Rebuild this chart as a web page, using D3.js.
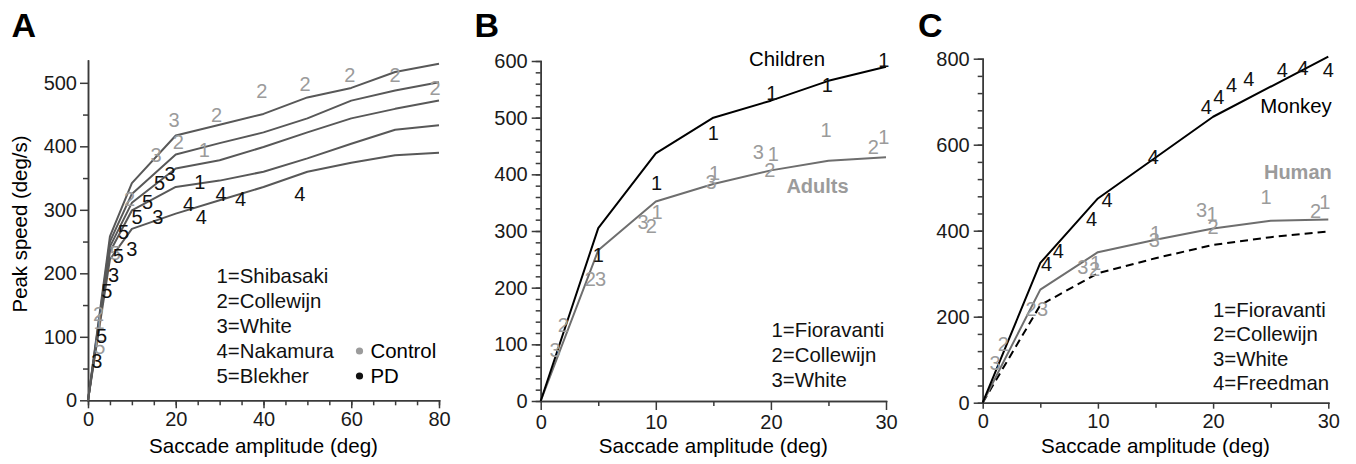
<!DOCTYPE html>
<html>
<head>
<meta charset="utf-8">
<script src="https://cdn.jsdelivr.net/npm/d3@7"></script>
<style>
body { margin: 0; background: #fff; }
svg { font-family: "Liberation Sans", Arial, Helvetica, sans-serif; }
.axis path, .axis line { stroke: #3a3a3a; stroke-width: 1.5; }
.axis text { fill: #1a1a1a; font-size: 20px; font-family: "Liberation Sans", Arial, sans-serif; }
.num { font-size: 20px; }
</style>
</head>
<body>
<svg id="fig" width="1356" height="464"></svg>
<script>
// ---- panel A: five studies, fitted main sequence curves
var ampA = [0, 5, 10, 20, 30, 40, 50, 60, 70, 80];
var curveA1 = [0, 258, 342, 417, 434, 451, 477, 492, 517, 530];
var curveA2 = [0, 250, 325, 387, 405, 422, 444, 472, 488, 501];
var curveA3 = [0, 242, 311, 365, 378, 399, 422, 444, 459, 472];
var curveA4 = [0, 234, 299, 336, 346, 360, 381, 404, 426, 433];
var curveA5 = [0, 222, 270, 294, 315, 336, 360, 374, 386, 390];

// [amplitude, speed, study]
var controlA = [[19.6, 441, "3"], [29.3, 449, "2"], [39.6, 488, "2"], [49.5, 498, "2"], [59.7, 513, "2"],
    [70, 512, "2"], [79.1, 492, "2"], [20.6, 407, "2"], [15.5, 387, "3"], [26.5, 394, "1"],
    [9.5, 318, "2"], [2.4, 137, "2"], [2.5, 123, "1"], [2.7, 84, "5"], [6.2, 232, "5"]];
var pdA = [[18.7, 357, "3"], [16.3, 343, "5"], [25.5, 344, "1"], [30.3, 326, "4"], [34.8, 318, "4"],
    [48.3, 326, "4"], [22.9, 309, "4"], [25.8, 289, "4"], [15.9, 289, "3"], [11.2, 289, "5"],
    [13.6, 312, "5"], [8.1, 266, "5"], [10, 239, "3"], [6.9, 228, "5"], [5.8, 197, "3"],
    [4.3, 173, "5"], [3.1, 102, "5"], [2, 62, "3"]];
var legendA = ["1=Shibasaki", "2=Collewijn", "3=White", "4=Nakamura", "5=Blekher"];
var groupsA = ["Control", "PD"];

// ---- panel B: children vs adults
var ampB = [0, 5, 10, 15, 20, 25, 30];
var childrenB = [0, 305, 437, 500, 530, 565, 590];
var adultsB = [0, 266, 352, 383, 407, 424, 430];
var childLabelsB = [[10.07, 385, "1"], [15, 473, "1"], [20.07, 544, "1"], [24.9, 558, "1"], [29.8, 602, "1"], [5, 258, "1"]];
var adultLabelsB = [[24.8, 479, "1"], [28.9, 449, "2"], [29.8, 466, "1"], [18.9, 440, "3"], [20.2, 436, "1"],
    [19.9, 408, "2"], [15.1, 402, "1"], [14.8, 387, "3"], [8.9, 316, "3"], [9.6, 310, "2"], [10.1, 334, "1"],
    [4.3, 215, "2"], [5.2, 215, "3"], [1.96, 134, "2"], [1.24, 90, "3"]];
var legendB = ["1=Fioravanti", "2=Collewijn", "3=White"];

// ---- panel C: monkey vs human
var ampMonkey = [0, 5, 10, 20, 30];
var monkeyC = [0, 325, 475, 665, 805];
var ampC = [0, 5, 10, 15, 20, 25, 30];
var humanC = [0, 263, 350, 379, 405, 423, 426];
var dashedC = [0, 227, 301, 336, 367, 385, 398];
var monkeyLabelsC = [[9.46, 427, "4"], [10.8, 473, "4"], [14.8, 572, "4"], [19.4, 687, "4"], [20.5, 712, "4"],
    [21.6, 739, "4"], [23.1, 754, "4"], [26, 774, "4"], [27.8, 778, "4"], [30, 774, "4"],
    [5.55, 324, "4"], [6.56, 353, "4"]];
var humanLabelsC = [[24.6, 479, "1"], [28.9, 446, "2"], [29.7, 467, "1"], [19, 448, "3"], [19.9, 440, "1"],
    [20, 409, "2"], [15, 394, "1"], [14.9, 378, "3"], [8.7, 315, "3"], [9.7, 312, "2"], [9.8, 326, "1"],
    [4.2, 218, "2"], [5.2, 218, "3"], [1.8, 138, "2"], [1.07, 92, "3"]];
var legendC = ["1=Fioravanti", "2=Collewijn", "3=White", "4=Freedman"];

var gray = "#9b9b9b", dark = "#111";
var svg = d3.select("#fig");

function drawAxes(x, y, o) {
    var y0 = y.range()[0], x0 = x.range()[0];
    svg.append("g").attr("class", "axis").attr("transform", "translate(0," + y0 + ")")
        .call(d3.axisBottom(x).tickValues(o.xMinor).tickSize(o.minor).tickFormat("").tickSizeOuter(0));
    svg.append("g").attr("class", "axis").attr("transform", "translate(0," + y0 + ")")
        .call(d3.axisBottom(x).tickValues(o.xMajor).tickSize(o.xSize).tickPadding(o.xPad).tickSizeOuter(0));
    svg.append("g").attr("class", "axis").attr("transform", "translate(" + x0 + ",0)")
        .call(d3.axisLeft(y).tickValues(o.yMinor).tickSize(o.minor).tickFormat("").tickSizeOuter(0));
    svg.append("g").attr("class", "axis").attr("transform", "translate(" + x0 + ",0)")
        .call(d3.axisLeft(y).tickValues(o.yMajor).tickSize(o.ySize).tickPadding(o.yPad).tickSizeOuter(0));
    svg.selectAll(".axis .domain").attr("stroke-linecap", "square");

    svg.append("text")
        .attr("x", (x.range()[0] + x.range()[1]) / 2)
        .attr("y", 453)
        .attr("text-anchor", "middle")
        .style("font-size", "20.6px")
        .text("Saccade amplitude (deg)");
}

function drawLine(x, y, xs, ys, color, dash) {
    var line = d3.line().x(d => x(d[0])).y(d => y(d[1]));
    svg.append("path")
        .datum(d3.zip(xs, ys))
        .attr("d", line)
        .attr("fill", "none")
        .attr("stroke", color)
        .attr("stroke-width", 2)
        .attr("stroke-linejoin", "round")
        .attr("stroke-dasharray", dash || null);
}

function drawNums(x, y, data, color) {
    svg.append("g").selectAll("text")
        .data(data)
        .enter()
        .append("text")
        .attr("class", "num")
        .attr("x", d => x(d[0]))
        .attr("y", d => y(d[1]))
        .attr("dy", "0.36em")
        .attr("text-anchor", "middle")
        .attr("fill", color)
        .text(d => d[2]);
}

function drawLegend(lines, lx, ly, step) {
    svg.append("g").selectAll("text")
        .data(lines)
        .enter()
        .append("text")
        .attr("x", lx)
        .attr("y", (d, i) => ly + i * step)
        .style("font-size", "20.4px")
        .attr("fill", dark)
        .text(d => d);
}

function panelLetter(t, px) {
    svg.append("text")
        .attr("x", px).attr("y", 36.5)
        .style("font-size", "34px").style("font-weight", "bold")
        .text(t);
}

// ================= A =================
var xA = d3.scaleLinear().domain([0, 80]).range([88, 439]);
var yA = d3.scaleLinear().domain([0, 535]).range([400.3, 60.6]);
drawAxes(xA, yA, {
    xMajor: d3.range(0, 81, 20), xMinor: d3.range(0, 81, 5),
    yMajor: d3.range(0, 501, 100), yMinor: d3.range(50, 501, 100),
    minor: 5, xSize: 8, xPad: 3.5, ySize: 8, yPad: 3
});
[curveA5, curveA4, curveA3, curveA2, curveA1].forEach(function(c) {
    drawLine(xA, yA, ampA, c, "#585858");
});
drawNums(xA, yA, controlA, gray);
drawNums(xA, yA, pdA, dark);
drawLegend(legendA, 216.5, 283, 25);
svg.append("g").selectAll("circle")
    .data(groupsA)
    .enter()
    .append("circle")
    .attr("cx", 359.5)
    .attr("cy", (d, i) => 351 + i * 25)
    .attr("r", 3.6)
    .attr("fill", (d, i) => i == 0 ? gray : dark);
svg.append("g").selectAll("text")
    .data(groupsA)
    .enter()
    .append("text")
    .attr("x", 370.5)
    .attr("y", (d, i) => 358 + i * 25)
    .style("font-size", "20.4px")
    .text(d => d);
svg.append("text")
    .attr("transform", "translate(27,224) rotate(-90)")
    .attr("text-anchor", "middle")
    .style("font-size", "20.4px")
    .text("Peak speed (deg/s)");
panelLetter("A", 11.5);

// ================= B =================
var xB = d3.scaleLinear().domain([0, 30]).range([540.7, 886]);
var yB = d3.scaleLinear().domain([0, 600]).range([401, 61]);
drawAxes(xB, yB, {
    xMajor: [0, 10, 20, 30], xMinor: [5, 15, 25],
    yMajor: d3.range(0, 601, 100), yMinor: d3.range(0, 601, 20),
    minor: 5, xSize: 9, xPad: 5, ySize: 9, yPad: 4
});
drawLine(xB, yB, ampB, adultsB, "#6e6e6e");
drawLine(xB, yB, ampB, childrenB, "#000");
drawNums(xB, yB, adultLabelsB, gray);
drawNums(xB, yB, childLabelsB, dark);
svg.append("text")
    .attr("x", xB(21.4)).attr("y", yB(591))
    .attr("text-anchor", "middle")
    .style("font-size", "20.4px")
    .text("Children");
svg.append("text")
    .attr("x", xB(24.05)).attr("y", yB(367))
    .attr("text-anchor", "middle")
    .attr("fill", gray)
    .style("font-size", "20px").style("font-weight", "bold")
    .text("Adults");
drawLegend(legendB, 771.5, 337, 24.8);
panelLetter("B", 474.5);

// ================= C =================
var xC = d3.scaleLinear().domain([0, 30]).range([982.7, 1328.3]);
var yC = d3.scaleLinear().domain([0, 800]).range([402.7, 58.7]);
drawAxes(xC, yC, {
    xMajor: [0, 10, 20, 30], xMinor: [5, 15, 25],
    yMajor: d3.range(0, 801, 200), yMinor: d3.range(0, 801, 40),
    minor: 5, xSize: 6, xPad: 5, ySize: 9, yPad: 4
});
drawLine(xC, yC, ampC, dashedC, "#000", "8,5");
drawLine(xC, yC, ampC, humanC, "#6e6e6e");
drawLine(xC, yC, ampMonkey, monkeyC, "#000");
drawNums(xC, yC, humanLabelsC, gray);
drawNums(xC, yC, monkeyLabelsC, dark);
svg.append("text")
    .attr("x", xC(30.3)).attr("y", yC(674))
    .attr("text-anchor", "end")
    .style("font-size", "20.4px")
    .text("Monkey");
svg.append("text")
    .attr("x", xC(30.3)).attr("y", yC(520))
    .attr("text-anchor", "end")
    .attr("fill", gray)
    .style("font-size", "20px").style("font-weight", "bold")
    .text("Human");
drawLegend(legendC, 1213, 316.7, 24.4);
panelLetter("C", 918);
</script>
</body>
</html>
